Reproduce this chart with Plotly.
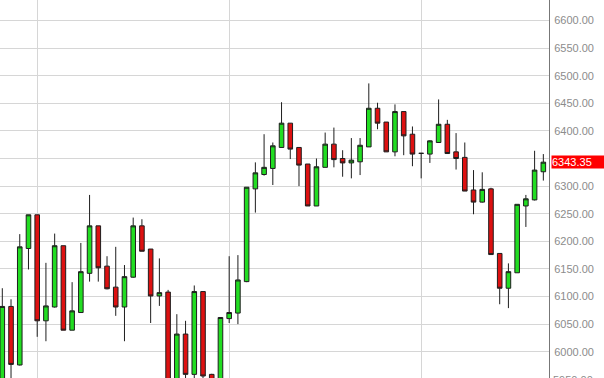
import plotly.graph_objects as go

# Daily candles (index-based x)
opens = [5920, 6082, 5976, 6187, 6248, 6056, 6081, 6192, 6039, 6071,
         6142, 6228, 6155, 6117, 6081, 6135, 6228, 6186, 6101, 6108,
         5930, 6032, 5959, 6109, 5959, 5935, 6060, 6070, 6127, 6295,
         6321, 6332, 6370, 6414, 6370, 6340, 6264, 6334, 6376, 6350,
         6342, 6344, 6371, 6441, 6416, 6362, 6435, 6394, 6359.4, 6358,
         6379, 6412, 6362, 6352, 6293, 6271, 6295, 6178, 6115, 6143,
         6264, 6275, 6326]
highs = [6115, 6095, 6213, 6248, 6248, 6161, 6214, 6192, 6126, 6197,
         6284, 6228, 6173, 6190, 6157, 6243, 6240, 6186, 6169, 6112,
         6068, 6056, 6120, 6109, 5960, 6062, 6173, 6175, 6298, 6343,
         6394, 6379, 6452, 6414, 6370, 6340, 6350, 6397, 6406, 6365,
         6387, 6387, 6486, 6451, 6416, 6448, 6435, 6408, 6360, 6383,
         6457, 6420, 6396, 6379, 6329, 6325, 6297, 6178, 6160, 6267,
         6284, 6364, 6358]
lows = [5910, 5945, 5975, 6149, 6027, 6019, 6080, 6039, 6039, 6071,
        6127, 6127, 6113, 6065, 6019, 6134, 6182, 6052, 6083, 5920,
        5920, 5940, 5950, 5945, 5925, 5930, 6052, 6050, 6126, 6252,
        6319, 6302, 6370, 6349, 6300, 6264, 6264, 6334, 6334, 6317,
        6314, 6320, 6371, 6403, 6362, 6354, 6356, 6336, 6314, 6342,
        6379, 6359, 6330, 6291, 6249, 6270, 6176, 6086, 6079, 6143,
        6226, 6274, 6310]
closes = [6082, 5977, 6190, 6248, 6056, 6083, 6192, 6039, 6074, 6145,
          6228, 6152, 6114, 6081, 6136, 6228, 6182, 6101, 6107, 5930,
          6032, 5959, 6109, 5956, 5930, 6062, 6071, 6130, 6298, 6324,
          6334, 6373, 6414, 6367, 6338, 6264, 6335, 6376, 6348, 6342,
          6347, 6374, 6441, 6414, 6362, 6435, 6391, 6358, 6359.3, 6382,
          6412, 6359, 6350, 6291, 6271, 6294, 6176, 6115, 6145, 6267,
          6277, 6329, 6343.35]
x_idx = list(range(len(opens)))
month_lines = [4, 26, 48]
last_price = 6343.35
price_ticks = list(range(6000, 6650, 50))
# the 6350 label is hidden behind the last-price box in the reference
price_labels = ["" if p == 6350 else f"{p:.2f}" for p in price_ticks]
partial_label = "5950.00"

label_font = dict(family="Liberation Sans, Arial", size=11, color="#8c8c8c")

fig = go.Figure()
fig.add_trace(go.Candlestick(
    x=x_idx, open=opens, high=highs, low=lows, close=closes,
    increasing=dict(fillcolor="#22dd22", line=dict(color="#1e1e1e", width=1)),
    decreasing=dict(fillcolor="#dd1111", line=dict(color="#1e1e1e", width=1)),
    whiskerwidth=0, showlegend=False, hoverinfo="skip",
))

fig.add_annotation(
    x=1, xref="paper", y=last_price, yref="y", xanchor="left", yanchor="middle",
    xshift=2, text=f"{last_price:.2f}", showarrow=False, align="left",
    width=53, height=12, bgcolor="#ff0000", borderpad=0,
    font=dict(family="Liberation Sans, Arial", size=11, color="#ffffff"),
)
fig.add_annotation(
    x=1, xref="paper", y=0, yref="paper", xanchor="left", yanchor="middle",
    xshift=2, yshift=-2, text=partial_label, showarrow=False, align="left",
    font=label_font,
)

fig.update_layout(
    width=604, height=378,
    margin=dict(l=0, r=55, t=0, b=0),
    paper_bgcolor="white", plot_bgcolor="white",
    xaxis=dict(
        range=[-0.264, 62.65], rangeslider=dict(visible=False),
        tickvals=month_lines, showticklabels=False,
        showgrid=True, gridcolor="#d6d6d6", gridwidth=1,
        zeroline=False, showline=False, ticks="",
    ),
    yaxis=dict(
        side="right", range=[5952.4, 6637.1],
        tickvals=price_ticks, ticktext=price_labels,
        showgrid=True, gridcolor="#d6d6d6", gridwidth=1,
        zeroline=False, showline=True, linecolor="#777777", linewidth=1,
        ticks="", ticklabelstandoff=2,
        tickfont=label_font,
    ),
    boxgap=0.25,
)

fig.write_html("out.html")
